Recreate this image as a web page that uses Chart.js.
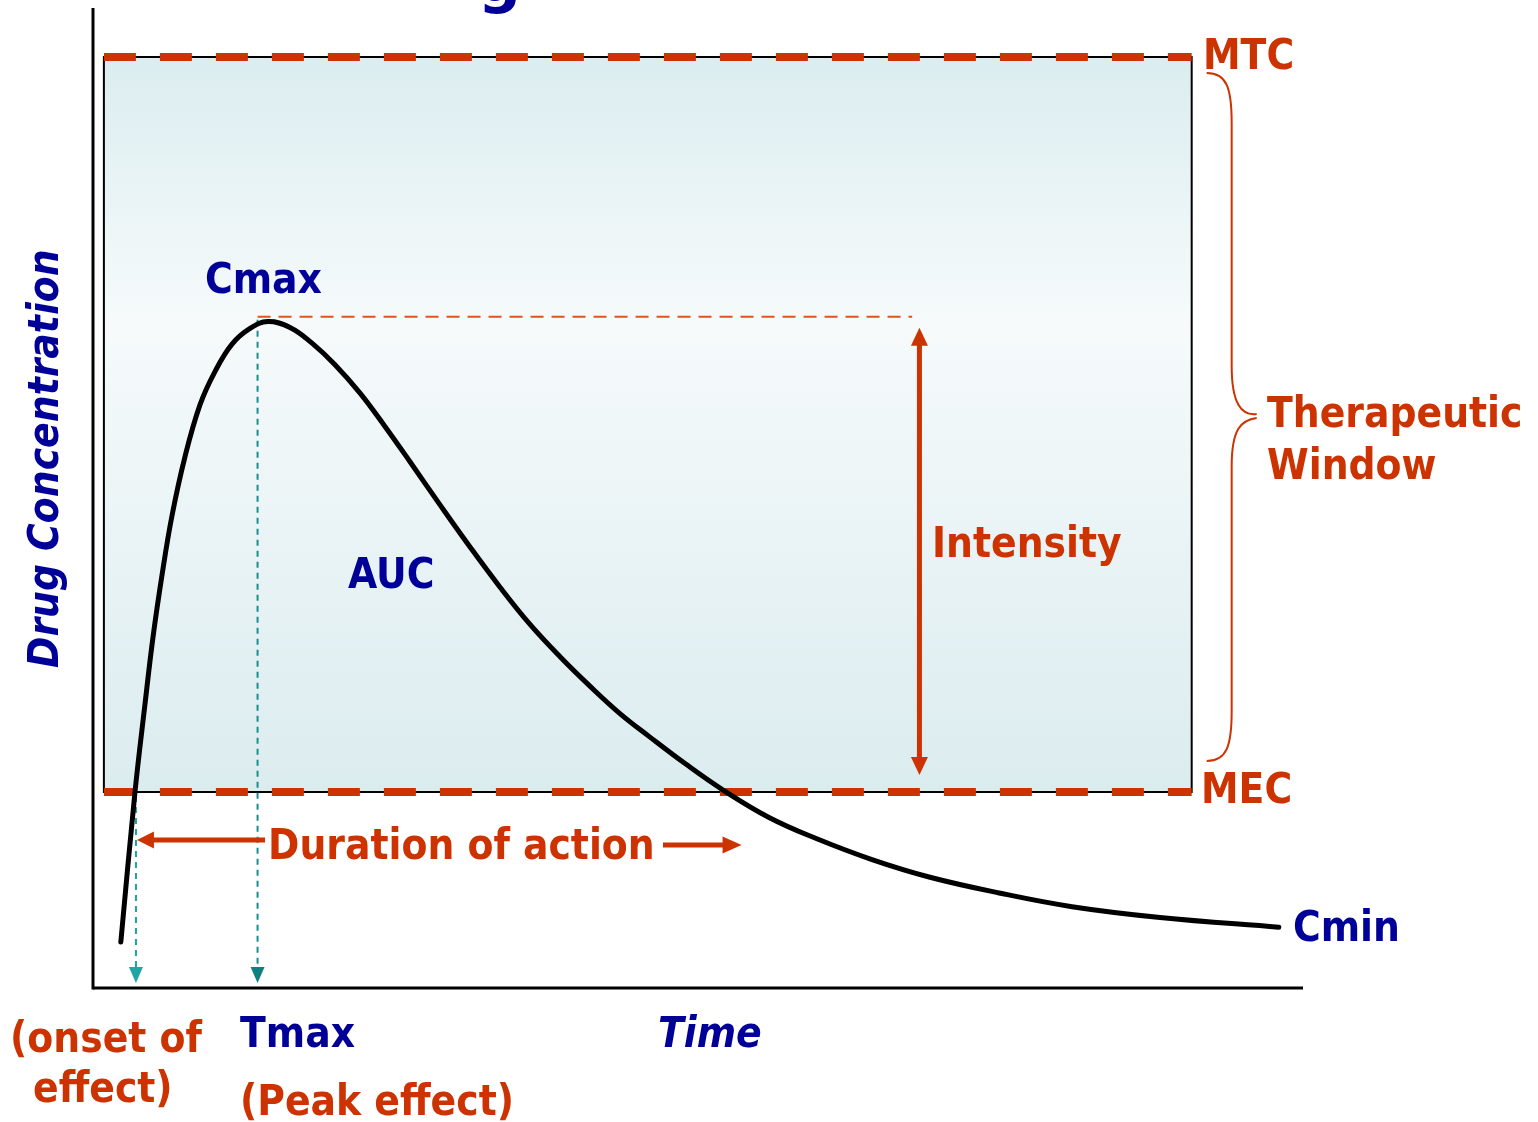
<!DOCTYPE html>
<html>
<head>
<meta charset="utf-8">
<script src="https://cdn.jsdelivr.net/npm/chart.js@4/dist/chart.umd.min.js"></script>
<style>
html,body{margin:0;padding:0;background:#ffffff;}
#wrap{width:1538px;height:1122px;position:relative;}
</style>
</head>
<body>
<div id="wrap"><canvas id="c" width="1538" height="1122"></canvas></div>
<script>
// ---- data (time in arbitrary units, concentration in arbitrary units) ----
const timeValues = [2.3, 3.47, 4.3, 4.96, 5.7, 6.53, 7.6, 8.84, 10.08, 11.49, 12.98, 14.46, 16.28, 18.1, 20.0, 22.07, 24.13, 26.2, 28.68, 31.16, 33.64, 36.12, 38.6, 41.07, 43.55, 46.03, 48.93, 52.07, 55.87, 59.67, 64.38, 69.17, 74.88, 80.91, 88.18, 98.0];
const concValues = [4.7, 20.0, 29.0, 35.8, 42.1, 48.2, 54.2, 59.5, 62.9, 65.7, 67.3, 68.0, 67.4, 65.8, 63.6, 60.7, 57.3, 53.7, 49.3, 45.0, 40.9, 37.1, 33.8, 30.8, 28.0, 25.6, 22.9, 20.2, 17.4, 15.3, 13.1, 11.3, 9.7, 8.3, 7.2, 6.2];

const MTC = 95;          // maximum toxic concentration
const MEC = 20;          // minimum effective concentration
const CMAX = 68.5;       // Cmax reference level
const TMAX = 13.6;       // time of peak
const ONSET = 3.55;      // onset of effect
const WINDOW_START = 0.9;
const WINDOW_END = 90.8;
const CMAX_LINE_END = 67.7;
const INTENSITY_AT = 68.3;
const DURATION_END = 53.6;
const X_RANGE = [0, 100];
const Y_RANGE = [0, 100];

const curvePoints = timeValues.map((t, i) => ({x: t, y: concValues[i]}));

const ORANGE = '#CC3300';
const BLUE = '#000099';
const FAM = "'DejaVu Sans Condensed', 'DejaVu Sans', sans-serif";
const font = (size, style) => `${style || 'bold'} ${size}px ${FAM}`;

function arrowHead(ctx, tx, ty, dx, dy, len, half, color) {
  const px = -dy, py = dx;
  ctx.save();
  ctx.fillStyle = color;
  ctx.beginPath();
  ctx.moveTo(tx, ty);
  ctx.lineTo(tx - dx * len + px * half, ty - dy * len + py * half);
  ctx.lineTo(tx - dx * len - px * half, ty - dy * len - py * half);
  ctx.closePath();
  ctx.fill();
  ctx.restore();
}

function line(ctx, x0, y0, x1, y1, color, width, dash) {
  ctx.save();
  ctx.strokeStyle = color;
  ctx.lineWidth = width;
  ctx.setLineDash(dash || []);
  ctx.lineCap = 'butt';
  ctx.beginPath();
  ctx.moveTo(x0, y0);
  ctx.lineTo(x1, y1);
  ctx.stroke();
  ctx.restore();
}

function text(ctx, str, x, y, color, f) {
  ctx.save();
  ctx.fillStyle = color;
  ctx.font = f;
  ctx.textBaseline = 'alphabetic';
  ctx.textAlign = 'left';
  ctx.fillText(str, x, y);
  ctx.restore();
}

const overlay = {
  id: 'overlay',
  beforeDatasetsDraw(chart) {
    const {ctx, chartArea: a} = chart;
    const X = v => chart.scales.x.getPixelForValue(v);
    const Y = v => chart.scales.y.getPixelForValue(v);

    // therapeutic window box
    const bx0 = X(WINDOW_START), bx1 = X(WINDOW_END), by0 = Y(MTC), by1 = Y(MEC);
    const g = ctx.createLinearGradient(0, by0, 0, by1);
    g.addColorStop(0, '#dbedf0');
    g.addColorStop(0.36, '#f6fafb');
    g.addColorStop(1, '#dbecef');
    ctx.save();
    ctx.fillStyle = g;
    ctx.fillRect(bx0, by0, bx1 - bx0, by1 - by0);
    ctx.strokeStyle = '#000';
    ctx.lineWidth = 2;
    ctx.strokeRect(bx0, by0, bx1 - bx0, by1 - by0);
    ctx.restore();

    // MTC / MEC dashed bars
    [MTC, MEC].forEach(v => {
      ctx.save();
      ctx.beginPath();
      ctx.rect(bx0, 0, bx1 - bx0, chart.height);
      ctx.clip();
      line(ctx, bx0, Y(v), bx1 + 10, Y(v), ORANGE, 8, [32, 24]);
      ctx.restore();
    });

    // Cmax dashed guide
    line(ctx, X(TMAX), Y(CMAX), X(CMAX_LINE_END), Y(CMAX), '#E0551F', 2, [13, 8]);

    // teal dashed drops
    const tealBottom = a.bottom - 20;
    line(ctx, X(TMAX), Y(CMAX) + 3, X(TMAX), tealBottom, '#178f8f', 2, [6, 5]);
    line(ctx, X(ONSET), Y(MEC) + 4, X(ONSET), tealBottom, '#1fa3a3', 2, [6, 5]);
    arrowHead(ctx, X(TMAX), a.bottom - 5, 0, 1, 16, 7, '#0f7f7f');
    arrowHead(ctx, X(ONSET), a.bottom - 5, 0, 1, 16, 7, '#20a5a5');
  },
  afterDatasetsDraw(chart) {
    const {ctx, chartArea: a} = chart;
    const X = v => chart.scales.x.getPixelForValue(v);
    const Y = v => chart.scales.y.getPixelForValue(v);

    // axes
    line(ctx, a.left, a.top, a.left, a.bottom + 1.5, '#000', 3);
    line(ctx, a.left, a.bottom, a.right, a.bottom, '#000', 3);

    // intensity arrow
    const ix = X(INTENSITY_AT);
    const iTop = Y(CMAX) + 11, iBot = Y(MEC) - 17;
    line(ctx, ix, iTop + 10, ix, iBot - 10, ORANGE, 5);
    arrowHead(ctx, ix, iTop, 0, -1, 18, 8.5, ORANGE);
    arrowHead(ctx, ix, iBot, 0, 1, 18, 8.5, ORANGE);

    // duration arrows
    const dy1 = Y(MEC) + 48, dy2 = Y(MEC) + 53;
    line(ctx, X(ONSET) + 12, dy1, 265, dy1, ORANGE, 5);
    arrowHead(ctx, X(ONSET) + 1, dy1, -1, 0, 17, 8.5, ORANGE);
    line(ctx, 663, dy2, X(DURATION_END) - 12, dy2, ORANGE, 5);
    arrowHead(ctx, X(DURATION_END), dy2, 1, 0, 19, 8.5, ORANGE);

    // brace
    const top = Y(MTC) + 16, bot = Y(MEC) - 31, bx = X(WINDOW_END);
    const x0 = bx + 15, xv = bx + 40, xt = bx + 65, ym = 416;
    ctx.save();
    ctx.strokeStyle = ORANGE;
    ctx.lineWidth = 2;
    ctx.beginPath();
    ctx.moveTo(x0, top);
    ctx.bezierCurveTo(x0 + 20, top, xv, top + 15, xv, top + 50);
    ctx.lineTo(xv, ym - 50);
    ctx.bezierCurveTo(xv, ym - 12, xt - 15, ym, xt, ym - 2);
    ctx.moveTo(xt, ym + 2);
    ctx.bezierCurveTo(xt - 15, ym + 4, xv, ym + 12, xv, ym + 50);
    ctx.lineTo(xv, bot - 50);
    ctx.bezierCurveTo(xv, bot - 15, x0 + 20, bot, x0, bot);
    ctx.stroke();
    ctx.restore();

    // labels
    const f42 = font(42);
    text(ctx, 'g', 478, 1, BLUE, `bold 60px 'DejaVu Sans', sans-serif`);
    text(ctx, 'Cmax', 205, 293, BLUE, f42);
    text(ctx, 'AUC', 348, 588, BLUE, f42);
    text(ctx, 'Cmin', 1293, 941, BLUE, f42);
    text(ctx, 'Tmax', 240, 1047, BLUE, f42);
    text(ctx, 'Time', 658, 1047, BLUE, font(42, 'italic bold'));
    text(ctx, 'Intensity', 932, 557, ORANGE, f42);
    text(ctx, 'MTC', 1203, 69, ORANGE, f42);
    text(ctx, 'MEC', 1201, 803, ORANGE, f42);
    text(ctx, 'Therapeutic', 1267, 427, ORANGE, f42);
    text(ctx, 'Window', 1267, 479, ORANGE, f42);
    text(ctx, 'Duration of action', 268, 859, ORANGE, f42);
    text(ctx, '(onset of', 10, 1052, ORANGE, f42);
    text(ctx, 'effect)', 33, 1102, ORANGE, f42);
    text(ctx, '(Peak effect)', 240, 1115, ORANGE, f42);

    // rotated y label
    ctx.save();
    ctx.translate(58, 668);
    ctx.rotate(-Math.PI / 2);
    ctx.fillStyle = BLUE;
    ctx.font = font(42, 'italic bold');
    ctx.textBaseline = 'alphabetic';
    ctx.fillText('Drug Concentration', 0, 0);
    ctx.restore();
  }
};

new Chart(document.getElementById('c'), {
  type: 'line',
  data: {
    datasets: [{
      data: curvePoints,
      borderColor: '#000000',
      borderWidth: 5,
      pointRadius: 0,
      fill: false,
      tension: 0.4,
      borderCapStyle: 'round',
      borderJoinStyle: 'round'
    }]
  },
  options: {
    responsive: false,
    devicePixelRatio: 1,
    animation: false,
    layout: {padding: {left: 93, top: 8, right: 235, bottom: 134}},
    plugins: {legend: {display: false}, tooltip: {enabled: false}, title: {display: false}},
    scales: {
      x: {type: 'linear', min: X_RANGE[0], max: X_RANGE[1], display: false},
      y: {type: 'linear', min: Y_RANGE[0], max: Y_RANGE[1], display: false}
    }
  },
  plugins: [overlay]
});
</script>
</body>
</html>
